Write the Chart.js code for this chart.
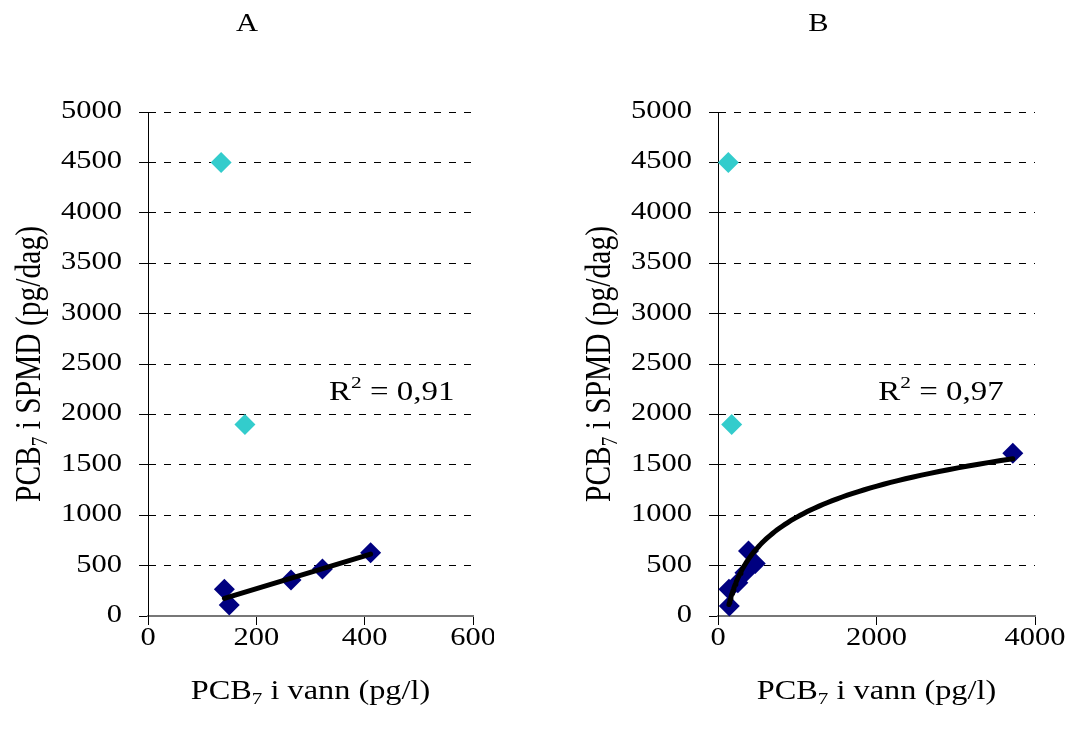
<!DOCTYPE html>
<html>
<head>
<meta charset="utf-8">
<script src="https://cdn.jsdelivr.net/npm/chart.js@4.4.0/dist/chart.umd.min.js"></script>
<style>
  html, body { margin: 0; padding: 0; background: #fff; }
  #wrap { position: relative; width: 1069px; height: 738px; }
  canvas { position: absolute; top: 0; }
  #chartA { left: 0; }
  #chartB { left: 568px; }
</style>
</head>
<body>
<div id="wrap">
  <canvas id="chartA" width="494" height="738"></canvas>
  <canvas id="chartB" width="501" height="738"></canvas>
</div>
<script>
// --- data ---
var panelTitles = ['A', 'B'];
var xTicksA = { max: 600, step: 200 };
var xTicksB = { max: 4000, step: 2000 };
var yTicks = { max: 5000, step: 500 };

// A: PCB7 in water (pg/l) vs PCB7 in SPMD (pg/day)
var waterA = [141, 150, 264, 322, 411];
var spmdA = [265, 109, 357, 466, 628];
var waterOutA = [135, 179];
var spmdOutA = [4500, 1900];
var r2A = '0,91';

// B
var waterB = [138, 143, 250, 340, 385, 470, 3720];
var spmdB = [265, 100, 330, 430, 645, 520, 1614];
var waterOutB = [130, 173];
var spmdOutB = [4500, 1900];
var r2B = '0,97';

var FONT = "'Liberation Serif', 'Times New Roman', serif";
var SX = 1.22; // text in the original is drawn wide

function xy(xs, ys) {
  return xs.map(function (x, i) { return { x: x, y: ys[i] }; });
}

// least squares trend lines, like the spreadsheet's
function linearTrend(xs, ys) {
  var n = xs.length, mx = 0, my = 0, sxy = 0, sxx = 0;
  xs.forEach(function (x, i) { mx += x / n; my += ys[i] / n; });
  xs.forEach(function (x, i) { sxy += (x - mx) * (ys[i] - my); sxx += (x - mx) * (x - mx); });
  var a = sxy / sxx, b = my - a * mx;
  var lo = Math.min.apply(null, xs), hi = Math.max.apply(null, xs);
  return [{ x: lo, y: a * lo + b }, { x: hi, y: a * hi + b }];
}

function logTrend(xs, ys) {
  var lx = xs.map(Math.log);
  var n = xs.length, mx = 0, my = 0, sxy = 0, sxx = 0;
  lx.forEach(function (x, i) { mx += x / n; my += ys[i] / n; });
  lx.forEach(function (x, i) { sxy += (x - mx) * (ys[i] - my); sxx += (x - mx) * (x - mx); });
  var a = sxy / sxx, b = my - a * mx;
  var lo = Math.min.apply(null, xs), hi = Math.max.apply(null, xs);
  var pts = [];
  for (var k = 0; k <= 80; k++) {
    var x = lo * Math.pow(hi / lo, k / 80);
    pts.push({ x: x, y: a * Math.log(x) + b });
  }
  return pts;
}

function runWidth(ctx, runs, size) {
  var w = 0;
  runs.forEach(function (r) {
    ctx.font = (r.sub || r.sup ? size * 0.65 : size) + 'px ' + FONT;
    r._w = ctx.measureText(r.t).width;
    w += r._w;
  });
  return w;
}

function drawRuns(ctx, runs, x, y, align, size, sx) {
  if (sx === undefined) sx = SX;
  var w = runWidth(ctx, runs, size) * sx;
  var start = align === 'center' ? x - w / 2 : (align === 'right' ? x - w : x);
  ctx.save();
  ctx.translate(start, y);
  ctx.scale(sx, 1);
  ctx.textAlign = 'left';
  ctx.textBaseline = 'alphabetic';
  var cx = 0;
  runs.forEach(function (r) {
    ctx.font = (r.sub || r.sup ? size * 0.65 : size) + 'px ' + FONT;
    var dy = r.sub ? size * 0.2 : (r.sup ? -size * 0.45 : 0);
    ctx.fillText(r.t, cx, dy);
    cx += r._w;
  });
  ctx.restore();
}

function textPlugin(cfg) {
  return {
    id: 'texts',
    afterDraw: function (chart) {
      var ctx = chart.ctx, xs = chart.scales.x, ys = chart.scales.y, area = chart.chartArea;
      ctx.save();
      ctx.fillStyle = '#000';
      ys.ticks.forEach(function (t, i) {
        drawRuns(ctx, [{ t: String(t.value) }], area.left - 26, ys.getPixelForTick(i) + 6, 'right', 25);
      });
      xs.ticks.forEach(function (t, i) {
        drawRuns(ctx, [{ t: String(t.value) }], xs.getPixelForTick(i), 645, 'center', 25);
      });
      drawRuns(ctx, [{ t: 'PCB' }, { t: '7', sub: true }, { t: ' i vann (pg/l)' }],
        (area.left + area.right) / 2, 699, 'center', 26.5);

      ctx.save();
      ctx.translate(area.left - 108, (area.top + area.bottom) / 2);
      ctx.scale(SX, 1);
      ctx.rotate(-Math.PI / 2);
      drawRuns(ctx, [{ t: 'PCB' }, { t: '7', sub: true }, { t: ' i SPMD (pg/dag)' }], 0, 0, 'center', 29.5, 1);
      ctx.restore();

      drawRuns(ctx, [{ t: cfg.title }], chart.width / 2, 31, 'center', 25);
      drawRuns(ctx, [{ t: 'R' }, { t: '2', sup: true }, { t: ' = ' + cfg.r2 }],
        xs.getPixelForValue(cfg.rx), ys.getPixelForValue(cfg.ry), 'center', 27);
      ctx.restore();
    }
  };
}

function mountPanel(id, cfg) {
  var el = document.getElementById(id);
  new Chart(el, {
    type: 'scatter',
    data: {
      datasets: [{
        label: 'trend',
        data: cfg.trend,
        showLine: true,
        borderColor: '#000',
        borderWidth: 5,
        borderCapStyle: 'round',
        borderJoinStyle: 'round',
        pointRadius: 0,
        tension: 0,
        clip: false,
        order: 0
      }, {
        label: 'PCB7',
        data: cfg.points,
        pointStyle: 'rectRot',
        pointRadius: 10.5,
        borderWidth: 0,
        backgroundColor: '#000080',
        borderColor: '#000080',
        clip: false,
        order: 1
      }, {
        label: 'outliers',
        data: cfg.outliers,
        pointStyle: 'rectRot',
        pointRadius: 10.5,
        borderWidth: 0,
        backgroundColor: '#33CCCC',
        borderColor: '#33CCCC',
        clip: false,
        order: 2
      }]
    },
    options: {
      responsive: false,
      animation: false,
      devicePixelRatio: 1,
      layout: { autoPadding: false, padding: { top: 112, left: 0, right: cfg.padRight, bottom: 0 } },
      plugins: { legend: { display: false }, tooltip: { enabled: false } },
      scales: {
        x: {
          type: 'linear',
          min: 0,
          max: cfg.xMax,
          ticks: { stepSize: cfg.xStep, display: false },
          grid: { drawOnChartArea: false, drawTicks: true, tickLength: 9, tickColor: '#000', color: '#000' },
          border: { color: '#777', width: 2 },
          afterFit: function (s) { s.height = 122; }
        },
        y: {
          min: 0,
          max: yTicks.max,
          ticks: { stepSize: yTicks.step, display: false },
          grid: { color: '#000', lineWidth: 1, drawTicks: true, tickLength: 9, tickColor: '#000', tickBorderDash: [] },
          border: { color: '#000', width: 1, dash: [7, 8] },
          afterFit: function (s) { s.width = cfg.axisWidth; }
        }
      }
    },
    plugins: [textPlugin(cfg)]
  });
}

mountPanel('chartA', {
  title: panelTitles[0],
  points: xy(waterA, spmdA),
  outliers: xy(waterOutA, spmdOutA),
  trend: linearTrend(waterA, spmdA),
  xMax: xTicksA.max,
  xStep: xTicksA.step,
  axisWidth: 148,
  padRight: 21,
  r2: r2A,
  rx: 450,
  ry: 2143
});

mountPanel('chartB', {
  title: panelTitles[1],
  points: xy(waterB, spmdB),
  outliers: xy(waterOutB, spmdOutB),
  trend: logTrend(waterB, spmdB),
  xMax: xTicksB.max,
  xStep: xTicksB.step,
  axisWidth: 150,
  padRight: 34,
  r2: r2B,
  rx: 2814,
  ry: 2143
});
</script>
</body>
</html>
